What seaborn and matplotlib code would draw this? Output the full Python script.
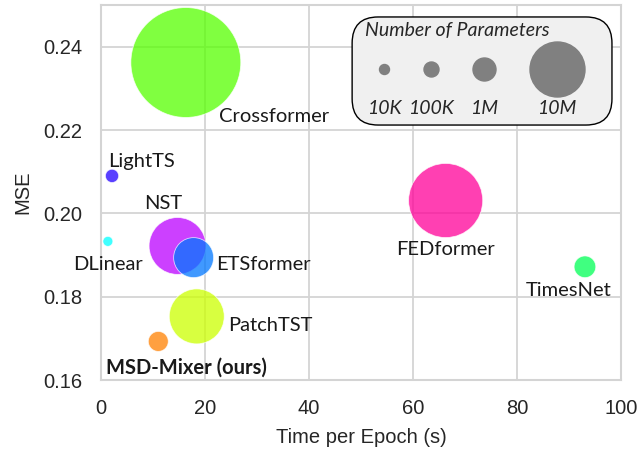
import numpy as np
import pandas as pd
import matplotlib.pyplot as plt
import seaborn as sns
from matplotlib.patches import FancyBboxPatch

# data
models = ["Crossformer", "LightTS", "DLinear", "NST", "ETSformer",
          "PatchTST", "MSD-Mixer (ours)", "FEDformer", "TimesNet"]
time_per_epoch = [16.3, 2.1, 1.3, 14.7, 17.8, 18.4, 11.0, 66.3, 93.1]
mse = [0.2362, 0.2090, 0.1933, 0.1922, 0.1894, 0.1753, 0.1693, 0.2031, 0.1872]
n_params = [54e6, 46e3, 10e3, 10.6e6, 3.4e6, 10e6, 420e3, 18e6, 690e3]

legend_params = [1e4, 1e5, 1e6, 1e7]
legend_labels = ["10K", "100K", "1M", "10M"]

colors = {"Crossformer": "#55ff00", "LightTS": "#2200ff", "DLinear": "#00ffff",
          "NST": "#bb00ff", "ETSformer": "#0077ff", "PatchTST": "#ccff00",
          "MSD-Mixer (ours)": "#ff8000", "FEDformer": "#ff0099", "TimesNet": "#00ff55"}


# bubble diameter (px) from parameter count, log scale
def marker_area(p):
    d = np.interp(np.log10(p), [4, 5, 6, 7, 8], [10, 15, 23, 55, 130])
    return (d * 0.72) ** 2


df = pd.DataFrame({"model": models, "time": time_per_epoch,
                   "mse": mse, "params": n_params})

sns.set_style("whitegrid", {"grid.color": "#d4d4d4", "axes.edgecolor": "#d4d4d4"})
plt.rcParams["font.family"] = ["Liberation Sans", "DejaVu Sans"]
plt.rcParams["grid.linewidth"] = 1.3
plt.rcParams["axes.linewidth"] = 1.5

fig, ax = plt.subplots(figsize=(6.4, 4.51), dpi=100)
fig.subplots_adjust(left=0.158, right=0.970, top=0.989, bottom=0.157)

sns.scatterplot(data=df, x="time", y="mse", hue="model", palette=colors,
                size="params", sizes={p: marker_area(p) for p in n_params},
                alpha=0.75, edgecolor="white", linewidth=0.6,
                legend=False, ax=ax, zorder=3)

# labels next to bubbles
lab_font = ["Lato", "DejaVu Sans"]
labels = [
    ("Crossformer", 22.7, 0.2232, "left", "normal"),
    ("LightTS", 7.8, 0.2125, "center", "normal"),
    ("NST", 12.0, 0.2024, "center", "normal"),
    ("DLinear", 1.3, 0.1878, "center", "normal"),
    ("ETSformer", 22.1, 0.1878, "left", "normal"),
    ("PatchTST", 24.5, 0.1730, "left", "normal"),
    ("MSD-Mixer (ours)", 1.0, 0.1630, "left", "bold"),
    ("FEDformer", 66.3, 0.1914, "center", "normal"),
    ("TimesNet", 89.9, 0.1814, "center", "normal"),
]
for txt, x, y, ha, fw in labels:
    ax.text(x, y, txt, ha=ha, va="center", fontsize=14.5, fontweight=fw,
            family=lab_font, color="#1a1a1a", zorder=4)

ax.set_xlim(0, 100)
ax.set_ylim(0.16, 0.25)
ax.set_xticks(range(0, 101, 20))
ax.set_yticks([0.16, 0.18, 0.20, 0.22, 0.24])
ax.tick_params(labelsize=14.5, colors="#262626", pad=10)
ax.set_xlabel("Time per Epoch (s)", fontsize=14.5, color="#262626", labelpad=7)
ax.set_ylabel("MSE", fontsize=14.5, color="#262626", labelpad=8)

# size legend drawn by hand
box = FancyBboxPatch((0.483, 0.68), 0.50, 0.288, transform=ax.transAxes,
                     boxstyle="round,pad=0,rounding_size=0.05",
                     facecolor="#f0f0f0", edgecolor="black", lw=1.0,
                     mutation_aspect=1.4, zorder=5)
ax.add_patch(box)
ax.text(0.508, 0.933, "Number of Parameters", transform=ax.transAxes,
        ha="left", va="center", fontsize=14, style="italic",
        family=lab_font, zorder=6)
for p, lab, lx in zip(legend_params, legend_labels, [0.544, 0.635, 0.737, 0.877]):
    ax.scatter([lx], [0.829], s=marker_area(p), color="#808080",
               transform=ax.transAxes, zorder=6, clip_on=False)
    ax.text(lx, 0.725, lab, transform=ax.transAxes, ha="center", va="center",
            fontsize=14, style="italic", family=lab_font, zorder=6)

plt.savefig("out.png", dpi=100)
